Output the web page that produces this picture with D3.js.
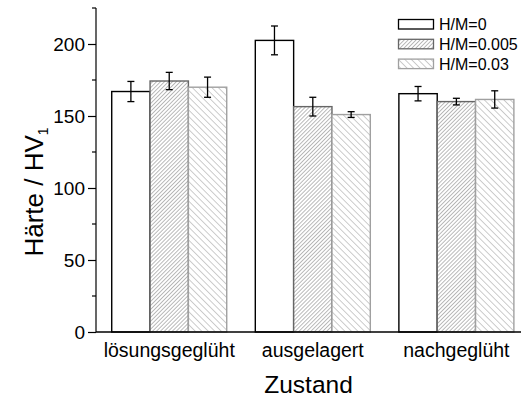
<!DOCTYPE html>
<html>
<head>
<meta charset="utf-8">
<script src="https://cdn.jsdelivr.net/npm/d3@7"></script>
<style>
  html, body { margin: 0; padding: 0; background: #fff; }
  svg { display: block; font-family: "Liberation Sans", Arial, sans-serif; }
</style>
</head>
<body>
<svg id="chart" width="525" height="401"></svg>
<script>
// Vickers hardness per heat-treatment state and hydrogen content
const categories = ["lösungsgeglüht", "ausgelagert", "nachgeglüht"];
const seriesNames = ["H/M=0", "H/M=0.005", "H/M=0.03"];
const hardness0 = [167, 202.5, 165.5];
const error0 = [7, 10, 5];
const hardness1 = [174.3, 156.5, 160];
const error1 = [6, 6.5, 2.3];
const hardness2 = [170, 151, 161.5];
const error2 = [7, 2, 6];
const yTicks = [0, 50, 100, 150, 200];
const yMinorTicks = [25, 75, 125, 175, 225];

const values = [hardness0, hardness1, hardness2];
const errors = [error0, error1, error2];

const svg = d3.select("#chart");
const plotLeft = 96, plotRight = 521, plotTop = 8, plotBottom = 332;

const x = d3.scaleLinear().domain([0.49, 3.45]).range([plotLeft, plotRight]);
const y = d3.scaleLinear().domain([0, 225]).range([plotBottom, plotTop]);
const barW = 0.267;

// hatch patterns
const defs = svg.append("defs");
function hatch(id, spacing, angle, color, width) {
  const p = defs.append("pattern")
    .attr("id", id)
    .attr("patternUnits", "userSpaceOnUse")
    .attr("width", spacing).attr("height", spacing)
    .attr("patternTransform", `rotate(${angle})`);
  p.append("rect").attr("width", spacing).attr("height", spacing).attr("fill", "#fff");
  p.append("line").attr("x1", 0).attr("y1", 0).attr("x2", 0).attr("y2", spacing)
    .attr("stroke", color).attr("stroke-width", width);
}
hatch("hatchFwd", 2.8, 45, "#666", 0.9);
hatch("hatchBack", 4.6, -45, "#9a9a9a", 1);

const styles = [
  { fill: "#fff", stroke: "#000" },
  { fill: "url(#hatchFwd)", stroke: "#666" },
  { fill: "url(#hatchBack)", stroke: "#a0a0a0" }
];

const rows = [];
categories.forEach((c, i) => {
  seriesNames.forEach((s, j) => {
    rows.push({ cat: i, ser: j, v: values[j][i], e: errors[j][i] });
  });
});

const barLeft = d => x(d.cat + 1 + (d.ser - 1.5) * barW);
const barRight = d => x(d.cat + 1 + (d.ser - 0.5) * barW);

svg.append("g").selectAll("rect")
  .data(rows).join("rect")
  .attr("x", barLeft)
  .attr("width", d => barRight(d) - barLeft(d))
  .attr("y", d => y(d.v))
  .attr("height", d => y(0) - y(d.v))
  .attr("fill", d => styles[d.ser].fill)
  .attr("stroke", d => styles[d.ser].stroke)
  .attr("stroke-width", 1.4);

// error bars
const eg = svg.append("g").attr("stroke", "#000").attr("stroke-width", 1.3);
rows.forEach(d => {
  const cx = (barLeft(d) + barRight(d)) / 2;
  eg.append("line").attr("x1", cx).attr("x2", cx).attr("y1", y(d.v + d.e)).attr("y2", y(d.v - d.e));
  [d.v + d.e, d.v - d.e].forEach(v => {
    eg.append("line").attr("x1", cx - 3.5).attr("x2", cx + 3.5).attr("y1", y(v)).attr("y2", y(v));
  });
});

// y axis
const yAxis = svg.append("g").attr("transform", `translate(${plotLeft},0)`)
  .call(d3.axisLeft(y).tickValues(yTicks).tickSize(8).tickPadding(3).tickFormat(d3.format("d")));
yAxis.select(".domain").attr("d", `M0,${y(0)}V${plotTop}`).attr("stroke-width", 1.2);
yAxis.selectAll(".tick line").attr("stroke-width", 1.2);
yAxis.selectAll(".tick text").attr("font-size", 19).attr("fill", "#000")
  .attr("font-family", "Liberation Sans, Arial, sans-serif");
svg.append("g").attr("transform", `translate(${plotLeft},0)`)
  .selectAll("line").data(yMinorTicks).join("line")
  .attr("x1", -4).attr("x2", 0).attr("y1", d => y(d)).attr("y2", d => y(d))
  .attr("stroke", "#000").attr("stroke-width", 1.2);

// x axis line
svg.append("line").attr("x1", plotLeft).attr("x2", plotRight).attr("y1", plotBottom).attr("y2", plotBottom)
  .attr("stroke", "#000").attr("stroke-width", 1.4);

// category labels
svg.append("g").selectAll("text").data(categories).join("text")
  .attr("x", (d, i) => x(i + 1)).attr("y", 357)
  .attr("text-anchor", "middle").attr("font-size", 19.5).text(d => d);

// axis titles
svg.append("text").attr("x", (plotLeft + plotRight) / 2).attr("y", 393)
  .attr("text-anchor", "middle").attr("font-size", 24.5).text("Zustand");
const yt = svg.append("text")
  .attr("transform", "translate(43,192) rotate(-90)")
  .attr("text-anchor", "middle").attr("font-size", 26);
yt.append("tspan").text("Härte / HV");
yt.append("tspan").attr("font-size", 14).attr("dy", 5).text("1");

// legend
const lg = svg.append("g");
seriesNames.forEach((s, j) => {
  const yy = 19.5 + j * 19.8;
  lg.append("rect").attr("x", 398.5).attr("y", yy).attr("width", 35).attr("height", 9.5)
    .attr("fill", styles[j].fill).attr("stroke", styles[j].stroke).attr("stroke-width", 1.3);
  lg.append("text").attr("x", 439).attr("y", yy + 10.5).attr("font-size", 16).text(s);
});
</script>
</body>
</html>
